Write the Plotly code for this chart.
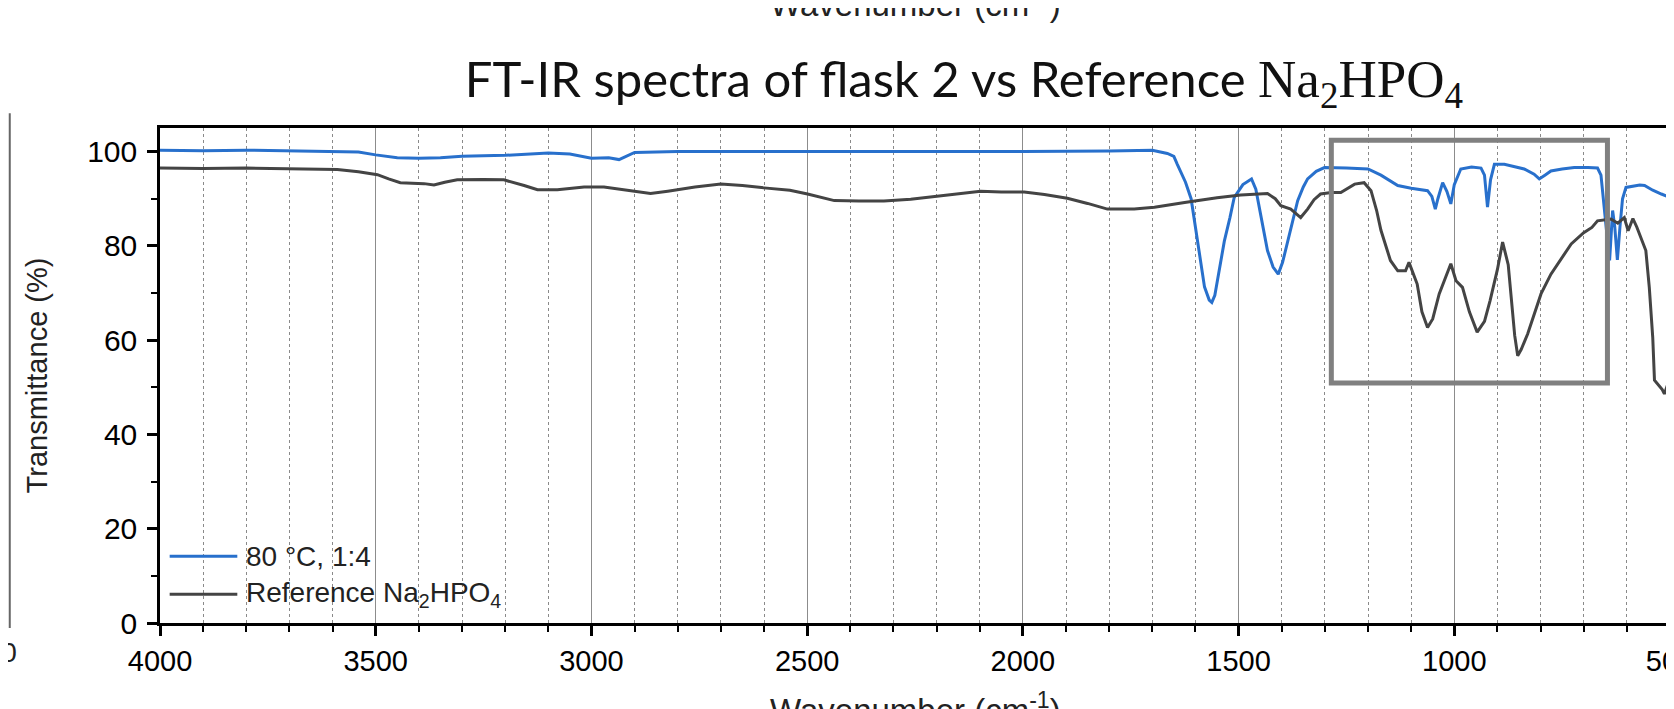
import plotly.graph_objects as go

# ---------------- data ----------------
wavenumber_sample = [4000, 3900, 3800, 3700, 3600, 3540, 3500, 3450, 3400, 3350, 3300, 3200,
                     3100, 3050, 3000, 2960, 2936, 2920, 2900, 2800, 2600, 2400, 2200, 2000,
                     1800, 1700, 1665, 1650, 1642, 1623, 1610, 1603, 1590, 1579, 1568, 1562,
                     1555, 1545, 1533, 1520, 1510, 1490, 1470, 1460, 1452, 1442, 1433, 1420,
                     1408, 1398, 1386, 1375, 1363, 1350, 1340, 1320, 1301, 1250, 1200, 1170,
                     1150, 1131, 1100, 1062, 1052, 1044, 1038, 1027, 1017, 1008, 1000, 985,
                     960, 938, 930, 923, 916, 907, 884, 860, 838, 815, 803, 790, 776, 750,
                     722, 690, 668, 660, 656, 648, 640, 636, 633, 628, 622, 616, 610, 602,
                     590, 582, 570, 559, 540, 520, 500]
transmittance_sample = [100.3, 100.2, 100.3, 100.2, 100.1, 99.9, 99.3, 98.7, 98.6, 98.7, 99.0, 99.2,
                        99.7, 99.5, 98.6, 98.7, 98.3, 99.0, 99.8, 100.0, 100.0, 100.0, 99.9, 100.0,
                        100.1, 100.3, 99.6, 99.0, 97.3, 93.5, 90.0, 86.0, 78.0, 71.3, 68.5, 68.0,
                        69.5, 75.0, 81.0, 86.0, 90.3, 93.0, 94.2, 92.0, 88.0, 83.0, 79.0, 75.5,
                        74.0, 76.5, 81.0, 85.5, 89.6, 92.5, 94.2, 95.8, 96.6, 96.5, 96.3, 95.0,
                        93.8, 92.8, 92.2, 91.7, 90.5, 87.8, 90.0, 93.4, 91.5, 88.9, 93.0, 96.3,
                        96.7, 96.5, 95.0, 88.2, 94.0, 97.3, 97.3, 96.8, 96.3, 95.2, 94.2, 95.0, 95.9, 96.3,
                        96.6, 96.6, 96.5, 95.0, 91.0, 84.0, 76.9, 82.0, 87.5, 84.0, 77.0, 84.0, 90.0, 92.4,
                        92.6, 92.8, 92.9, 92.8, 91.8, 91.0, 90.3]

wavenumber_ref = [4000, 3900, 3800, 3700, 3600, 3589, 3540, 3496, 3470, 3443, 3388, 3365, 3340,
                  3311, 3250, 3203, 3156, 3125, 3079, 3017, 2971, 2909, 2863, 2823, 2760, 2700,
                  2650, 2600, 2540, 2499, 2437, 2380, 2322, 2260, 2221, 2150, 2098, 2050, 1997,
                  1950, 1897, 1850, 1804, 1742, 1695, 1625, 1611, 1550, 1495, 1433, 1415, 1402,
                  1379, 1365, 1356, 1340, 1325, 1310, 1285, 1263, 1231, 1209, 1193, 1180, 1170,
                  1148, 1131, 1113, 1105, 1086, 1075, 1062, 1050, 1035, 1020, 1008, 996, 981,
                  965, 947, 930, 917, 900, 888, 875, 869, 860, 853, 845, 830, 815, 799, 776,
                  750, 729, 700, 681, 668, 654, 637, 621, 606, 597, 586, 577, 566, 556, 548,
                  540, 536, 525, 518, 513, 505, 500]
transmittance_ref = [96.5, 96.4, 96.5, 96.4, 96.3, 96.2, 95.7, 95.1, 94.2, 93.4, 93.2, 92.9, 93.5,
                     94.0, 94.1, 94.0, 92.8, 91.9, 91.9, 92.5, 92.5, 91.7, 91.1, 91.6, 92.5, 93.1,
                     92.8, 92.3, 91.8, 91.0, 89.6, 89.5, 89.5, 89.9, 90.3, 91.0, 91.6, 91.4, 91.4,
                     90.9, 90.1, 89.0, 87.8, 87.8, 88.2, 89.2, 89.4, 90.2, 90.8, 91.1, 90.0, 88.5,
                     87.8, 86.8, 86.0, 87.8, 89.8, 91.0, 91.3, 91.3, 93.1, 93.4, 91.7, 87.5, 83.3,
                     76.9, 74.7, 74.7, 76.5, 71.9, 66.0, 62.7, 64.5, 69.8, 73.5, 76.2, 72.6, 71.2,
                     66.0, 61.7, 64.0, 68.4, 75.0, 80.8, 76.0, 69.8, 61.0, 56.7, 58.0, 61.3, 65.5, 69.8, 74.0,
                     77.5, 80.4, 82.8, 83.9, 85.3, 85.5, 85.7, 84.8, 86.0, 83.2, 85.8, 84.0, 81.5, 79.0, 71.2,
                     60.6, 51.5, 50.4, 49.5, 48.6, 50.7, 51.0]

series_names = ["80 °C, 1:4", "Reference Na<sub>2</sub>HPO<sub>4</sub>"]
series_colors = ["#2870cc", "#444444"]

x_range = [4000, 500]
x_tickvals = [4000, 3500, 3000, 2500, 2000, 1500, 1000, 500]
y_range = [0, 105]
highlight_x = [1285, 645]
highlight_y = [50.9, 102.4]

TICK_FONT = "Liberation Sans, Arial, sans-serif"
X_TITLE = "Wavenumber (cm<sup>-1</sup>)"

fig = go.Figure()
fig.add_trace(go.Scatter(x=wavenumber_sample, y=transmittance_sample, mode="lines",
                         name=series_names[0], line=dict(color=series_colors[0], width=3),
                         showlegend=False))
fig.add_trace(go.Scatter(x=wavenumber_ref, y=transmittance_ref, mode="lines",
                         name=series_names[1], line=dict(color=series_colors[1], width=3),
                         showlegend=False))

# highlight rectangle (data coordinates)
fig.add_shape(type="rect", xref="x", yref="y",
              x0=highlight_x[0], x1=highlight_x[1], y0=highlight_y[0], y1=highlight_y[1],
              line=dict(color="#808080", width=5), fillcolor="rgba(0,0,0,0)")

# legend drawn inside the plot (bottom-left)
legend_rows_y = [0.135, 0.058]
for name, color, ly in zip(series_names, series_colors, legend_rows_y):
    fig.add_shape(type="line", xref="paper", yref="paper", x0=0.0064, x1=0.0512, y0=ly, y1=ly,
                  line=dict(color=color, width=3))
    fig.add_annotation(xref="paper", yref="paper", x=0.0555, y=ly, text=name, showarrow=False,
                       xanchor="left", yanchor="middle",
                       font=dict(family=TICK_FONT, size=28, color="#222"))

# x-axis title (bottom, cut by the figure edge as in the reference)
fig.add_annotation(xref="paper", yref="paper", x=0.5, y=-0.172, text=X_TITLE,
                   showarrow=False, xanchor="center", yanchor="middle",
                   font=dict(family=TICK_FONT, size=33, color="#222"))

# cropped remnants of neighbouring figure parts
fig.add_annotation(xref="paper", yref="paper", x=0.5, y=1.255, text=X_TITLE,
                   showarrow=False, xanchor="center", yanchor="middle",
                   font=dict(family=TICK_FONT, size=33, color="#222"))
fig.add_annotation(xref="paper", yref="paper", x=-0.0935, y=-0.06, text="500",
                   showarrow=False, xanchor="right", yanchor="middle",
                   font=dict(family=TICK_FONT, size=28, color="#222"))
fig.add_shape(type="line", xref="paper", yref="paper", x0=-0.0995, x1=-0.0995, y0=1.03, y1=-0.01,
              line=dict(color="#666", width=2))

fig.update_layout(
    width=1674, height=709,
    margin=dict(l=152, r=12, t=120, b=94, autoexpand=False),
    paper_bgcolor="white", plot_bgcolor="white",
    title=dict(
        text="FT-IR spectra of flask 2 vs Reference "
             "<span style=\"font-family:'Liberation Serif','DejaVu Serif',serif;font-size:53px\">Na<sub>2</sub>HPO<sub>4</sub></span>",
        x=0.571, xanchor="center", y=0.899, yanchor="middle", yref="container",
        font=dict(family="Lato, sans-serif", size=49, color="#111")),
    xaxis=dict(
        range=x_range, autorange=False, automargin=False,
        tickmode="array", tickvals=x_tickvals,
        ticks="outside", ticklen=10, tickwidth=2.5, tickcolor="black",
        ticklabeloverflow="allow",
        showline=True, linecolor="black", linewidth=2.5, mirror=True,
        showgrid=True, gridcolor="#8c8c8c", gridwidth=1,
        zeroline=False,
        minor=dict(dtick=100, tick0=500, ticks="outside", ticklen=6, tickwidth=2, tickcolor="black",
                   showgrid=True, gridcolor="#8a8a8a", gridwidth=1, griddash="dot"),
        tickfont=dict(family=TICK_FONT, size=29, color="black"),
    ),
    yaxis=dict(
        range=y_range, autorange=False, automargin=False,
        tickmode="linear", tick0=0, dtick=20,
        ticks="outside", ticklen=10, tickwidth=2.5, tickcolor="black",
        ticklabelstandoff=4,
        showline=True, linecolor="black", linewidth=2.5, mirror=True,
        showgrid=False, zeroline=False,
        minor=dict(dtick=10, ticks="outside", ticklen=6, tickwidth=2, tickcolor="black", showgrid=False),
        tickfont=dict(family=TICK_FONT, size=30, color="black"),
        title=dict(text="Transmittance (%)", standoff=32,
                   font=dict(family=TICK_FONT, size=29, color="#222")),
    ),
)

fig.write_html("out.html")
